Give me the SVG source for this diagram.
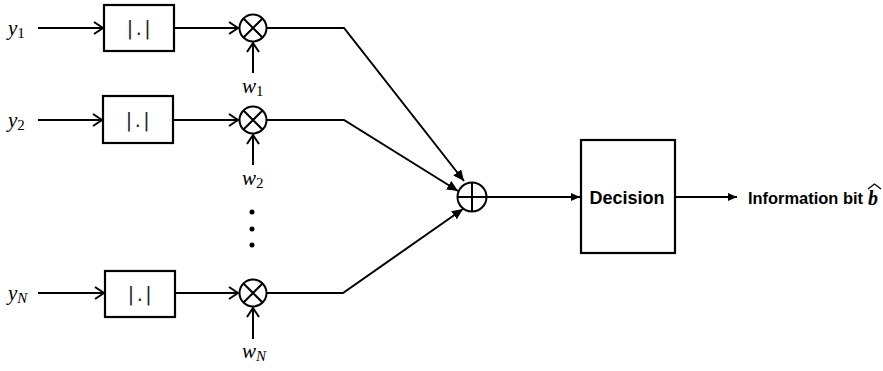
<svg xmlns="http://www.w3.org/2000/svg" width="883" height="371" viewBox="0 0 883 371">
<style>
.ln{stroke:#000;stroke-width:2;fill:none}
.box{stroke:#000;stroke-width:2.2;fill:#fff}
.math{font-family:"Liberation Serif",serif;font-style:italic;font-size:21px;fill:#000}
.sub{font-style:normal;font-size:15px}
.subi{font-style:italic;font-size:15px}
.abs{font-family:"DejaVu Sans","Liberation Sans",sans-serif;font-size:19px;letter-spacing:2.5px;fill:#222}
.bold{font-family:"Liberation Sans",Arial,sans-serif;font-weight:bold;fill:#000}
</style>
<defs>
<marker id="chev" markerUnits="userSpaceOnUse" markerWidth="14" markerHeight="16" refX="10" refY="7" orient="auto">
<path d="M1,1 L10,7 L1,13" fill="none" stroke="#000" stroke-width="2"/>
</marker>
<marker id="tri" markerUnits="userSpaceOnUse" markerWidth="12" markerHeight="10" refX="11" refY="5" orient="auto">
<path d="M0,0 L11,5 L0,10 Z" fill="#000"/>
</marker>
<marker id="tris" markerUnits="userSpaceOnUse" markerWidth="10" markerHeight="8" refX="9" refY="4" orient="auto">
<path d="M0,0 L9,4 L0,8 Z" fill="#000"/>
</marker>
</defs>

<g id="connectors">
<line class="ln" x1="38" y1="28" x2="103" y2="28" marker-end="url(#chev)"/>
<line class="ln" x1="174" y1="28" x2="238" y2="28" marker-end="url(#chev)"/>
<line class="ln" x1="253" y1="73" x2="253" y2="43" marker-end="url(#chev)"/>
<polyline class="ln" points="267,28 344,28 464,181" marker-end="url(#tri)"/>

<line class="ln" x1="38" y1="120" x2="102" y2="120" marker-end="url(#chev)"/>
<line class="ln" x1="173" y1="120" x2="238" y2="120" marker-end="url(#chev)"/>
<line class="ln" x1="253" y1="165" x2="253" y2="135" marker-end="url(#chev)"/>
<polyline class="ln" points="267,120 344,120 458,191" marker-end="url(#tri)"/>

<line class="ln" x1="38" y1="293" x2="104" y2="293" marker-end="url(#chev)"/>
<line class="ln" x1="175" y1="293" x2="238" y2="293" marker-end="url(#chev)"/>
<line class="ln" x1="253" y1="339" x2="253" y2="308" marker-end="url(#chev)"/>
<polyline class="ln" points="267,293 343,293 463,209" marker-end="url(#tri)"/>

<line class="ln" x1="487" y1="197" x2="580" y2="197" marker-end="url(#tris)"/>
<line class="ln" x1="675" y1="197" x2="737" y2="197" marker-end="url(#tris)"/>
</g>

<g id="in1"><text class="math" x="8" y="35">y<tspan class="sub" dy="3">1</tspan></text></g>
<g id="in2"><text class="math" x="8" y="127">y<tspan class="sub" dy="3">2</tspan></text></g>
<g id="inN"><text class="math" x="8" y="300">y<tspan class="subi" dy="3">N</tspan></text></g>

<g id="abs1"><rect class="box" x="104" y="5" width="70" height="46"/><text class="abs" x="140" y="35" text-anchor="middle">|.|</text></g>
<g id="abs2"><rect class="box" x="103" y="96" width="70" height="47"/><text class="abs" x="139" y="127" text-anchor="middle">|.|</text></g>
<g id="absN"><rect class="box" x="105" y="271" width="70" height="46"/><text class="abs" x="141" y="301" text-anchor="middle">|.|</text></g>

<g id="mul1"><circle class="ln" cx="253" cy="28" r="13.5"/><path class="ln" d="M243.5,18.5 L262.5,37.5 M262.5,18.5 L243.5,37.5"/></g>
<g id="mul2"><circle class="ln" cx="253" cy="120" r="13.5"/><path class="ln" d="M243.5,110.5 L262.5,129.5 M262.5,110.5 L243.5,129.5"/></g>
<g id="mulN"><circle class="ln" cx="253" cy="293" r="13.5"/><path class="ln" d="M243.5,283.5 L262.5,302.5 M262.5,283.5 L243.5,302.5"/></g>

<g id="w1"><text class="math" x="242" y="93">w<tspan class="sub" dy="3">1</tspan></text></g>
<g id="w2"><text class="math" x="242" y="185">w<tspan class="sub" dy="3">2</tspan></text></g>
<g id="wN"><text class="math" x="242" y="358">w<tspan class="subi" dy="3">N</tspan></text></g>

<g id="dots"><circle cx="252" cy="212" r="2.5"/><circle cx="252" cy="229" r="2.5"/><circle cx="252" cy="245" r="2.5"/></g>

<g id="sum"><circle class="ln" cx="472" cy="197" r="14.5"/><path class="ln" d="M457.5,197 L486.5,197 M472,182.5 L472,211.5"/></g>

<g id="decision"><rect class="box" x="581" y="140" width="94" height="113"/><text class="bold" x="627" y="204" font-size="18" text-anchor="middle">Decision</text></g>

<g id="output"><text class="bold" x="748" y="204" font-size="16" textLength="115" lengthAdjust="spacingAndGlyphs">Information bit</text>
<text x="868" y="205" font-family="Liberation Serif,serif" font-style="italic" font-weight="bold" font-size="20">b</text>
<path d="M868,189 L874.5,184 L881,189" fill="none" stroke="#000" stroke-width="1.3"/></g>
</svg>
